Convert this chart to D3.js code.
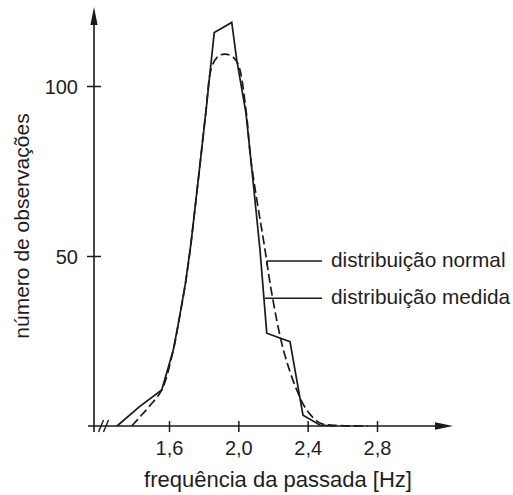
<!DOCTYPE html>
<html>
<head>
<meta charset="utf-8">
<script src="https://cdn.jsdelivr.net/npm/d3@7"></script>
<style>
  body { margin: 0; background: #fff; }
  svg text { font-family: "Liberation Sans", Arial, sans-serif; fill: #1e1e1e; }
</style>
</head>
<body>
<svg id="canvas"></svg>
<script>
const width = 513;
const height = 495;

// values
const xTicks = [1.6, 2.0, 2.4, 2.8];
const yTicks = [50, 100];

const measuredFreq = [1.30, 1.43, 1.558, 1.625, 1.659, 1.695, 1.725, 1.75, 1.779, 1.812, 1.861, 1.962, 1.991, 2.044, 2.073, 2.125, 2.164, 2.298, 2.373, 2.47, 2.56];
const measuredObs  = [0, 5.7, 10.6, 22.4, 31.5, 42, 53, 64, 77, 92, 115.7, 118.7, 107.6, 92, 78, 51.8, 27.3, 24.8, 3.2, 0.3, 0];

const normalFreq = [1.385, 1.433, 1.49, 1.558, 1.625, 1.659, 1.695, 1.725, 1.75, 1.779, 1.812, 1.846, 1.885, 1.923, 1.962, 1.998, 2.044, 2.073, 2.154, 2.193, 2.26, 2.337, 2.395, 2.471, 2.56, 2.75];
const normalObs  = [0, 2.7, 6, 10.6, 22.4, 31.5, 42, 53, 64, 77, 92, 105.5, 108.8, 109.4, 108.8, 106.5, 93, 78, 51.8, 39, 22.4, 10.6, 4.7, 0.9, 0.2, 0];

const legendLabels = ["distribuição normal", "distribuição medida"];
const legendFreq = [2.164, 2.154];   // where the leader touches the curve
const legendObs  = [48.5, 37.6];

const xLabel = "frequência da passada [Hz]";
const yLabel = "número de observações";

const svg = d3.select("#canvas")
              .attr("width", width)
              .attr("height", height);

const xScale = d3.scaleLinear()
                 .domain([1.6, 2.8])
                 .range([169, 377]);

const yScale = d3.scaleLinear()
                 .domain([0, 100])
                 .range([426, 86]);

const axisX = 94;            // vertical axis sits left of the broken x range
const baseY = yScale(0);
const ink = "#1a1a1a";

// x axis
const xAxis = d3.axisBottom(xScale)
                .tickValues(xTicks)
                .tickSize(6)
                .tickFormat(d => d.toFixed(1).replace(".", ","));
const gx = svg.append("g")
              .attr("transform", `translate(0, ${baseY})`)
              .call(xAxis);
gx.select(".domain").remove();
gx.selectAll("line").attr("y1", -5).attr("y2", 6).attr("stroke", ink).attr("stroke-width", 1.5);
gx.selectAll("text")
  .attr("y", 29).attr("dy", null)
  .style("font-size", "20px");

// y axis
const yAxis = d3.axisLeft(yScale)
                .tickValues(yTicks)
                .tickSize(7);
const gy = svg.append("g")
              .attr("transform", `translate(${axisX}, 0)`)
              .call(yAxis);
gy.select(".domain").remove();
gy.selectAll("line").attr("x1", 7).attr("stroke", ink).attr("stroke-width", 1.5);
gy.selectAll("text")
  .attr("x", -16).attr("dy", "0.35em")
  .style("font-size", "20px");

// axis lines with arrows
svg.append("line")
   .attr("x1", axisX - 6).attr("y1", baseY)
   .attr("x2", 440).attr("y2", baseY)
   .attr("stroke", ink).attr("stroke-width", 1.6);
svg.append("polygon")
   .attr("points", `453,${baseY} 435,${baseY - 3.8} 435,${baseY + 3.8}`)
   .attr("fill", ink);
svg.append("line")
   .attr("x1", axisX).attr("y1", baseY + 6)
   .attr("x2", axisX).attr("y2", 20)
   .attr("stroke", ink).attr("stroke-width", 1.6);
svg.append("polygon")
   .attr("points", `${axisX},7 ${axisX - 3.6},25 ${axisX + 3.6},25`)
   .attr("fill", ink);

// axis break marks
[101, 106].forEach(bx => {
  svg.append("line")
     .attr("x1", bx - 2.5).attr("y1", baseY + 6)
     .attr("x2", bx + 2.5).attr("y2", baseY - 6)
     .attr("stroke", ink).attr("stroke-width", 1.4);
});

// curves
const normalLine = d3.line()
                     .x(d => xScale(d[0]))
                     .y(d => yScale(d[1]))
                     .curve(d3.curveCatmullRom.alpha(0.5));
const measuredLine = d3.line()
                       .x(d => xScale(d[0]))
                       .y(d => yScale(d[1]));

svg.append("path")
   .attr("d", normalLine(d3.zip(normalFreq, normalObs)))
   .attr("fill", "none")
   .attr("stroke", ink)
   .attr("stroke-width", 1.7)
   .attr("stroke-dasharray", "9,4");

svg.append("path")
   .attr("d", measuredLine(d3.zip(measuredFreq, measuredObs)))
   .attr("fill", "none")
   .attr("stroke", ink)
   .attr("stroke-width", 1.7)
   .attr("stroke-linejoin", "miter");

// legend leaders and labels
const leaderEnd = 322;
legendLabels.forEach((label, i) => {
  const lx = xScale(legendFreq[i]);
  const ly = yScale(legendObs[i]);
  svg.append("line")
     .attr("x1", lx).attr("y1", ly)
     .attr("x2", leaderEnd).attr("y2", ly)
     .attr("stroke", ink).attr("stroke-width", 1.5);
  if (i === 0) {
    svg.append("line")
       .attr("x1", lx).attr("y1", ly)
       .attr("x2", lx).attr("y2", ly + 4)
       .attr("stroke", ink).attr("stroke-width", 1.5);
  }
  svg.append("text")
     .attr("x", 331)
     .attr("y", ly + 6)
     .style("font-size", "20.8px")
     .text(label);
});

// axis titles
svg.append("text")
   .attr("x", 278)
   .attr("y", 487)
   .attr("text-anchor", "middle")
   .style("font-size", "22px")
   .text(xLabel);

svg.append("text")
   .attr("transform", "translate(29, 226) rotate(-90)")
   .attr("text-anchor", "middle")
   .style("font-size", "21px")
   .text(yLabel);
</script>
</body>
</html>
